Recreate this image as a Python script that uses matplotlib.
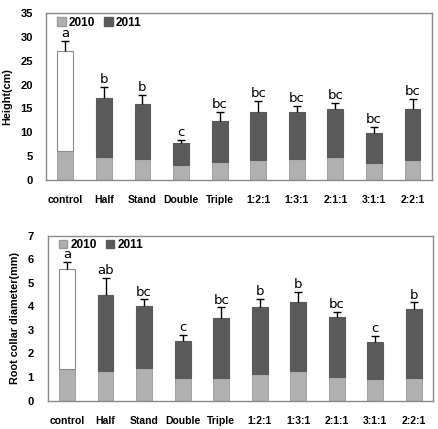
import numpy as np
import matplotlib
matplotlib.use('Agg')
import matplotlib.pyplot as plt
from matplotlib.patches import Patch

plt.rcParams['font.family'] = ['Liberation Sans', 'DejaVu Sans']

cats = ['control', 'Half', 'Stand', 'Double', 'Triple',
        '1:2:1', '1:3:1', '2:1:1', '3:1:1', '2:2:1']

# Height (cm): 2010 part, total (2011), upper error, letters
h_2010 = [6.2, 4.95, 4.5, 3.2, 3.8, 4.2, 4.5, 4.75, 3.6, 4.25]
h_total = [27.1, 17.2, 15.9, 7.7, 12.3, 14.2, 14.2, 14.85, 9.8, 14.8]
h_err = [2.1, 2.2, 1.9, 0.7, 2.0, 2.3, 1.4, 1.4, 1.3, 2.1]
h_sig = ['a', 'b', 'b', 'c', 'bc', 'bc', 'bc', 'bc', 'bc', 'bc']

# Root collar diameter (mm)
d_2010 = [1.33, 1.26, 1.37, 0.95, 0.96, 1.15, 1.26, 1.02, 0.93, 0.98]
d_total = [5.59, 4.50, 4.02, 2.53, 3.51, 3.97, 4.19, 3.55, 2.49, 3.88]
d_err = [0.28, 0.70, 0.28, 0.27, 0.45, 0.34, 0.41, 0.20, 0.27, 0.29]
d_sig = ['a', 'ab', 'bc', 'c', 'bc', 'b', 'b', 'bc', 'c', 'b']

C10 = '#b0b0b0'
C11 = '#5a5a5a'
EDGE = '#8a8a8a'

fig = plt.figure(figsize=(4.38, 4.29), dpi=100)
ax1 = fig.add_axes([0.105, 0.580, 0.881, 0.390])
ax2 = fig.add_axes([0.109, 0.066, 0.880, 0.385])


def panel(ax, base, total, err, sig, ymax, step, ylabel, off, lab_x, ypad):
    x = np.arange(len(cats))
    w = 0.41
    top = np.array(total) - np.array(base)
    fc = ['white'] + [C11] * (len(cats) - 1)
    ec = [EDGE] + [C11] * (len(cats) - 1)
    ax.bar(x, base, w, color=C10, edgecolor='#9a9a9a', linewidth=0.6, zorder=2)
    ax.bar(x, top, w, bottom=base, color=fc, edgecolor=ec, linewidth=0.8, zorder=2)
    tops = np.array(total) + np.array(err)
    ax.vlines(x, total, tops, color='black', linewidth=1.0, zorder=3)
    ax.plot(x, tops, '_', color='black', markersize=6, markeredgewidth=1.0, zorder=3)
    for xi, yi, s in zip(x, tops, sig):
        ax.text(xi, yi + off, s, ha='center', va='bottom', fontsize=9.5,
                family=['DejaVu Sans'], color='black')
    ax.set_xlim(-0.5, len(cats) - 0.5)
    ax.set_ylim(0, ymax)
    ax.set_yticks(np.arange(0, ymax + step / 2, step))
    ax.set_xticks(x)
    ax.set_xticklabels(cats, fontsize=7.5, fontweight='bold')
    for lab in ax.get_yticklabels():
        lab.set_fontweight('bold')
        lab.set_fontsize(8)
    ax.tick_params(axis='both', length=0)
    ax.tick_params(axis='x', pad=11)
    ax.tick_params(axis='y', pad=ypad)
    for sp in ax.spines.values():
        sp.set_color(EDGE)
        sp.set_linewidth(1.0)
    ax.set_ylabel(ylabel, fontsize=7.8, fontweight='bold')
    ax.yaxis.set_label_coords(lab_x, 0.5)
    handles = [Patch(facecolor=C10, edgecolor='#9a9a9a', label='2010'),
               Patch(facecolor=C11, edgecolor=C11, label='2011')]
    ax.legend(handles=handles, loc='upper left', ncol=2, frameon=False,
              prop={'weight': 'bold', 'size': 8.5}, handlelength=0.7,
              handleheight=0.7, handletextpad=0.25, columnspacing=0.8,
              borderaxespad=0.0, borderpad=0.3, bbox_to_anchor=(0.02, 0.998))


panel(ax1, h_2010, h_total, h_err, h_sig, 35, 5, 'Height(cm)', 0.2, -0.087, 9.5)
panel(ax2, d_2010, d_total, d_err, d_sig, 7, 1, 'Root collar diameter(mm)', 0.03, -0.072, 10)

fig.savefig('out.png', dpi=100)
